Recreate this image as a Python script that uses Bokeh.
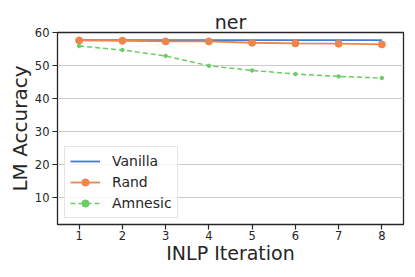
from bokeh.plotting import figure
from bokeh.models import Range1d, FixedTicker, Legend, LegendItem
from bokeh.embed import file_html
from bokeh.resources import INLINE

iterations = [1, 2, 3, 4, 5, 6, 7, 8]
vanilla = [57.7, 57.7, 57.7, 57.7, 57.7, 57.7, 57.7, 57.7]
rand = [57.6, 57.5, 57.3, 57.3, 56.9, 56.7, 56.6, 56.4]
amnesic = [55.9, 54.7, 52.9, 49.9, 48.5, 47.4, 46.7, 46.2]
y_ticks = [10, 20, 30, 40, 50, 60]

FONT = "DejaVu Sans"
p = figure(frame_width=346, frame_height=192, output_backend="svg", toolbar_location=None,
           x_range=Range1d(0.5, 8.5), y_range=Range1d(1.8, 60),
           min_border_left=0, min_border_right=4, min_border_top=0, min_border_bottom=0)
p.margin = (8, 0, 0, 4)

p.title.text = "ner"
p.title.text_font = FONT
p.title.text_font_size = "19px"
p.title.text_font_style = "normal"
p.title.align = "center"
p.title.text_color = "#262626"
p.title.standoff = 0

p.xaxis.axis_label = "INLP Iteration"
p.yaxis.axis_label = "LM Accuracy"
for ax in (p.xaxis, p.yaxis):
    ax.axis_label_text_font = FONT
    ax.axis_label_text_font_style = "normal"
    ax.axis_label_text_color = "#262626"
    ax.major_label_text_font = FONT
    ax.major_label_text_font_size = "11.5px"
    ax.major_label_text_color = "#262626"
    ax.axis_line_color = None
    ax.major_tick_line_color = "#262626"
    ax.major_tick_line_width = 1.2
    ax.major_tick_out = 5
    ax.major_tick_in = 0
    ax.minor_tick_line_color = None
    ax.major_label_standoff = 3
p.xaxis.axis_label_text_font_size = "19px"
p.yaxis.axis_label_text_font_size = "20px"
p.xaxis.major_label_standoff = 1
p.xaxis.axis_label_standoff = -1
p.yaxis.axis_label_standoff = 0

p.xaxis.ticker = FixedTicker(ticks=iterations)
p.yaxis.ticker = FixedTicker(ticks=y_ticks)
p.xgrid.grid_line_color = None
p.ygrid.grid_line_color = "#cccccc"
p.ygrid.grid_line_width = 1
p.outline_line_color = "#262626"
p.outline_line_width = 1.3
p.outline_line_alpha = 1

c_v, c_r, c_a = "#4878d0", "#ee854a", "#6acc64"
lv = p.line(iterations, vanilla, line_color=c_v, line_width=1.8)
lr = p.line(iterations, rand, line_color=c_r, line_width=1.8)
sr = p.scatter(iterations, rand, size=7, fill_color=c_r, line_color=c_r)
la = p.line(iterations, amnesic, line_color=c_a, line_width=1.5, line_dash="5 3")
sa = p.scatter(iterations, amnesic, size=3.5, fill_color=c_a, line_color=c_a)

legend = Legend(items=[
    LegendItem(label="Vanilla", renderers=[lv]),
    LegendItem(label="Rand", renderers=[lr, sr]),
    LegendItem(label="Amnesic", renderers=[la, sa]),
], location=(7, 6))
legend.label_text_font = FONT
legend.label_text_font_size = "14px"
legend.label_text_color = "#262626"
legend.glyph_width = 30
legend.glyph_height = 18
legend.label_height = 18
legend.spacing = 3
legend.padding = 5
legend.margin = 0
legend.label_standoff = 12
legend.border_line_color = "#cccccc"
legend.background_fill_alpha = 0.8
p.add_layout(legend, "center")

open("out.html", "w").write(file_html(p, INLINE))
